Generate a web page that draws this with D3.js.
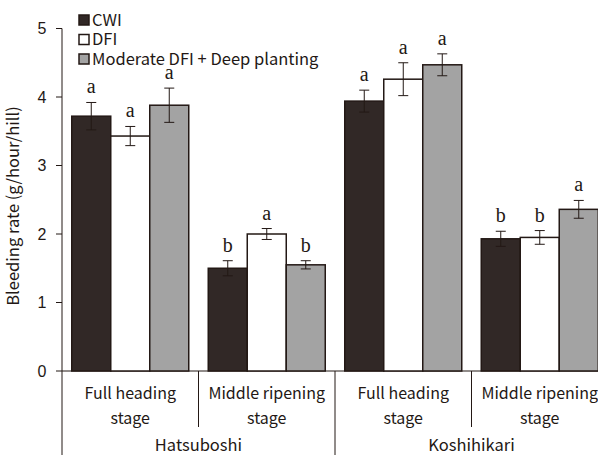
<!DOCTYPE html>
<html>
<head>
<meta charset="utf-8">
<script src="https://cdn.jsdelivr.net/npm/d3@7"></script>
<style>
  body { margin: 0; background: #fff; }
  svg { display: block; }
  text { fill: #231815; }
</style>
</head>
<body>
<div id="chart"></div>
<script>
// data
const varieties = ["Hatsuboshi", "Koshihikari"]
const stages = ["Full heading|stage", "Middle ripening|stage"]
const treatments = ["CWI", "DFI", "Moderate DFI + Deep planting"]
const colors = ["#312826", "#ffffff", "#a3a3a3"]

// one row per variety x stage, values per treatment
const means = [
  [3.72, 3.43, 3.88],
  [1.50, 2.00, 1.55],
  [3.94, 4.26, 4.47],
  [1.93, 1.95, 2.36]
]
const errs = [
  [0.20, 0.14, 0.25],
  [0.11, 0.08, 0.06],
  [0.16, 0.24, 0.16],
  [0.11, 0.10, 0.13]
]
const letters = [
  ["a", "a", "a"],
  ["b", "a", "b"],
  ["a", "a", "a"],
  ["b", "b", "a"]
]
const yTicks = [0, 1, 2, 3, 4, 5]

const W = 598, H = 455
const sans = "'Noto Sans CJK JP', 'Noto Sans', sans-serif"
const ink = "#231815"

const svg = d3.select("#chart").append("svg")
  .attr("width", W).attr("height", H)

const x0 = 62, yBase = 371
const cats = []
varieties.forEach(v => stages.forEach(s => cats.push(v + "|" + s)))

const x = d3.scaleBand().domain(cats).range([x0, x0 + 136.5 * 4]).paddingInner(0).paddingOuter(0)
const xs = d3.scaleBand().domain(treatments).range([0, x.bandwidth()]).paddingInner(0).paddingOuter(0.25)
const y = d3.scaleLinear().domain([0, 5]).range([yBase, 28.5])

// y axis
svg.append("line").attr("x1", x0).attr("x2", x0).attr("y1", y(5)).attr("y2", H)
  .attr("stroke", ink).attr("stroke-width", 1)
svg.selectAll(".yt").data(yTicks).join("line")
  .attr("x1", x0 - 6).attr("x2", x0).attr("y1", d => y(d)).attr("y2", d => y(d))
  .attr("stroke", ink)
svg.selectAll(".yl").data(yTicks).join("text")
  .attr("x", 42).attr("y", d => y(d)).attr("dy", "0.36em")
  .attr("text-anchor", "middle")
  .style("font-family", "'Liberation Sans', Arial, sans-serif").style("font-size", "16px")
  .text(d => d)
svg.append("text")
  .attr("transform", "translate(19,206) rotate(-90)")
  .attr("text-anchor", "middle")
  .style("font-family", sans).style("font-size", "16.5px")
  .text("Bleeding rate (g/hour/hill)")

// x axis + dividers
svg.append("line").attr("x1", x0).attr("x2", W).attr("y1", yBase).attr("y2", yBase)
  .attr("stroke", ink)
cats.forEach((c, i) => {
  const xr = x(c) + x.bandwidth()
  const isGroup = (i % 2 == 1)
  svg.append("line").attr("x1", xr).attr("x2", xr)
    .attr("y1", yBase).attr("y2", isGroup ? H : 427)
    .attr("stroke", ink)
  const lines = c.split("|").slice(1)
  lines.forEach((t, k) => {
    svg.append("text")
      .attr("x", x(c) + x.bandwidth() / 2).attr("y", 393 + k * 25).attr("dy", "0.36em")
      .attr("text-anchor", "middle")
      .style("font-family", sans).style("font-size", "16px")
      .text(t)
  })
})
varieties.forEach((v, i) => {
  const a = x(cats[i * 2]), b = x(cats[i * 2 + 1]) + x.bandwidth()
  svg.append("text")
    .attr("x", (a + b) / 2).attr("y", 445).attr("dy", "0.36em")
    .attr("text-anchor", "middle")
    .style("font-family", sans).style("font-size", "16.5px")
    .text(v)
})

// bars
const g = svg.selectAll(".cat").data(cats).join("g")
  .attr("transform", d => `translate(${x(d)},0)`)

g.each(function(c, ci) {
  const gg = d3.select(this)
  treatments.forEach((t, ti) => {
    const m = means[ci][ti], e = errs[ci][ti]
    const bx = xs(t), bw = xs.bandwidth(), cx = bx + bw / 2
    gg.append("rect")
      .attr("x", bx).attr("y", y(m)).attr("width", bw).attr("height", yBase - y(m))
      .attr("fill", colors[ti]).attr("stroke", ink).attr("stroke-width", 1.5)
    gg.append("line").attr("x1", cx).attr("x2", cx).attr("y1", y(m + e)).attr("y2", y(m - e))
      .attr("stroke", ink).attr("stroke-width", 1)
    ;[m + e, m - e].forEach(v => {
      gg.append("line").attr("x1", cx - 5).attr("x2", cx + 5).attr("y1", y(v)).attr("y2", y(v))
        .attr("stroke", ink).attr("stroke-width", 1)
    })
    gg.append("text")
      .attr("x", cx).attr("y", y(m + e) - 9)
      .attr("text-anchor", "middle")
      .style("font-family", "'Liberation Serif', 'Times New Roman', serif").style("font-size", "20px")
      .text(letters[ci][ti])
  })
})

// legend
const leg = svg.append("g")
treatments.forEach((t, i) => {
  const cy = 20 + i * 19.5
  leg.append("rect").attr("x", 79).attr("y", cy - 5).attr("width", 10).attr("height", 10)
    .attr("fill", colors[i]).attr("stroke", ink).attr("stroke-width", 1.5)
  leg.append("text").attr("x", 92).attr("y", cy).attr("dy", "0.36em")
    .style("font-family", sans).style("font-size", "16.5px")
    .text(t)
})
</script>
</body>
</html>
